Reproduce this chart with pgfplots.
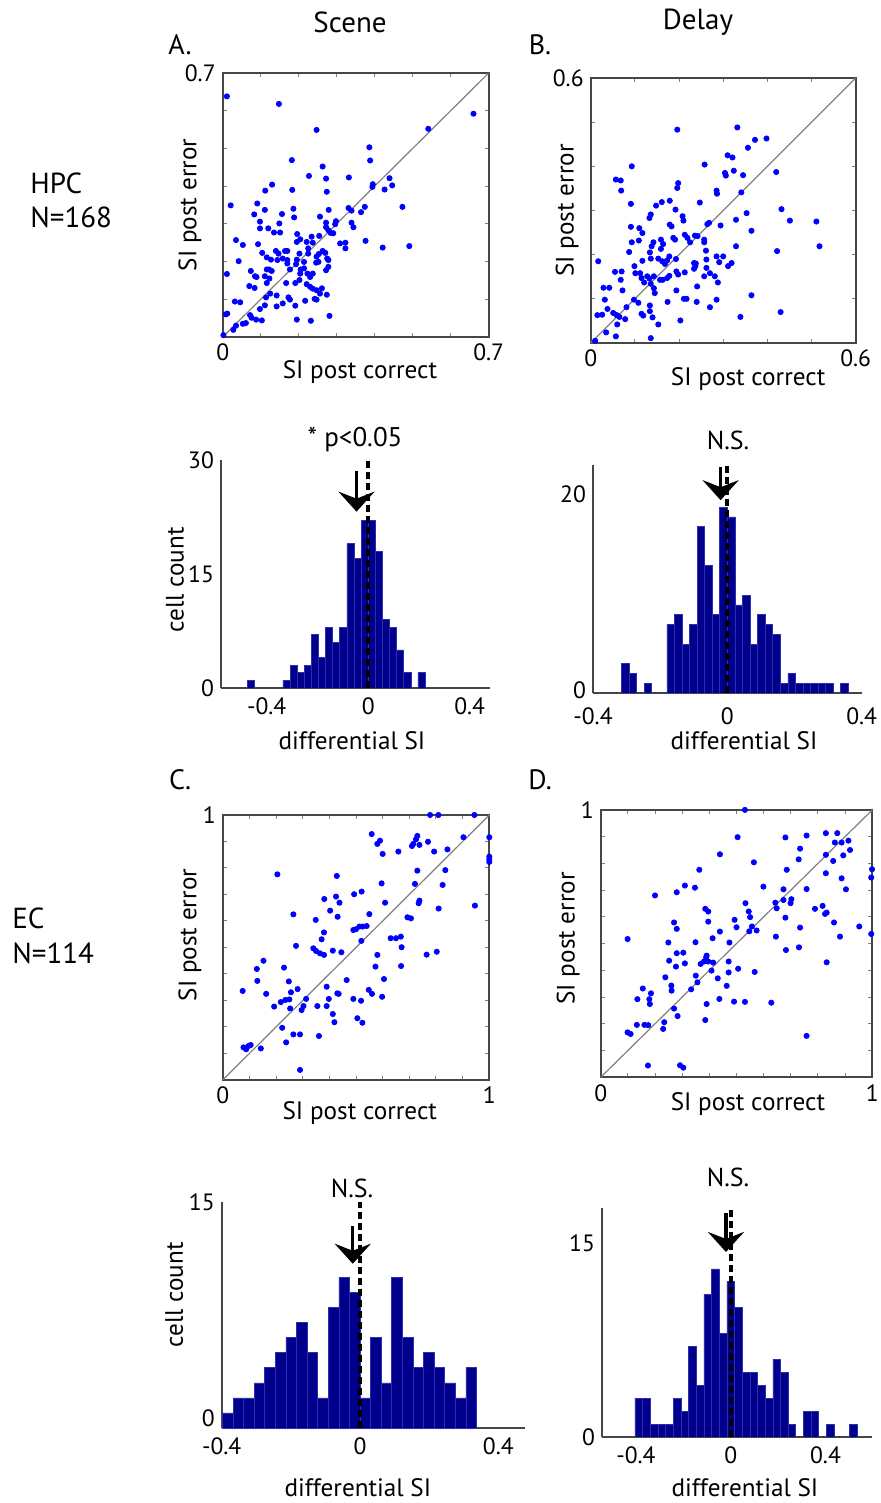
\documentclass[border=0pt]{standalone}
\usepackage{fontspec}
\setmainfont{PT Sans}
\usepackage{pgfplots}
\pgfplotsset{compat=1.18}
\usetikzlibrary{arrows.meta}

\definecolor{dotblue}{RGB}{0,0,255}
\definecolor{barblue}{RGB}{0,0,140}
\definecolor{baredge}{RGB}{45,45,175}
\definecolor{frame}{RGB}{70,70,70}

\pgfplotsset{
  base/.style={scale only axis, /pgf/number format/assume math mode=true,
    tick label style={font=\fontsize{11.8}{13}\selectfont},
    label style={font=\fontsize{12.6}{14}\selectfont}},
  scat/.style={base, tick align=inside, major tick length=2pt,
    axis line style={frame, line width=0.9pt}, tick style={gray, line width=0.5pt},
    clip=false, enlargelimits=false, xmin=0, ymin=0,
    xlabel={SI post correct}, ylabel={SI post error}},
  hist/.style={base, axis lines*=left, axis line style={frame, line width=0.9pt},
    major tick length=0pt, ymin=0, xlabel={differential SI},
    xticklabel style={yshift=-1.5pt}},
  dots/.style={only marks, mark=*, mark size=1.3pt, color=dotblue},
  diag/.style={gray, line width=0.6pt},
  bars/.style={ybar interval, fill=barblue, draw=baredge, line width=0.3pt},
  meanarrow/.style={line width=1.6pt, -{Stealth[length=10pt,width=18pt,inset=3.5pt]}},
  zeroline/.style={line width=2pt, dash pattern=on 3.5pt off 2pt}
}

\begin{document}
\begin{tikzpicture}
\path[use as bounding box] (0,0) rectangle (440pt,751.5pt);

% column and row titles
\node[font=\fontsize{14.5}{16}\selectfont] at (175pt,740.5pt) {Scene};
\node[font=\fontsize{14.5}{16}\selectfont] at (349pt,740.5pt) {Delay};
\node[font=\fontsize{14}{16}\selectfont] at (90pt,729pt) {A.};
\node[font=\fontsize{14}{16}\selectfont] at (270pt,729pt) {B.};
\node[font=\fontsize{14}{16}\selectfont] at (90pt,361.5pt) {C.};
\node[font=\fontsize{14}{16}\selectfont] at (270pt,361.5pt) {D.};
\node[anchor=west, inner sep=0pt, font=\fontsize{14.5}{16}\selectfont] at (15pt,660pt) {HPC};
\node[anchor=west, inner sep=0pt, font=\fontsize{14.5}{16}\selectfont] at (15pt,643pt) {N=168};
\node[anchor=west, inner sep=0pt, font=\fontsize{14.5}{16}\selectfont] at (6pt,292.5pt) {EC};
\node[anchor=west, inner sep=0pt, font=\fontsize{14.5}{16}\selectfont] at (6pt,275pt) {N=114};
\node[font=\fontsize{13.5}{15}\selectfont] at (177.5pt,531.5pt) {* p<0.05};
\node[font=\fontsize{13}{15}\selectfont] at (364pt,531.5pt) {N.S.};
\node[font=\fontsize{13}{15}\selectfont] at (176pt,157.5pt) {N.S.};
\node[font=\fontsize{13}{15}\selectfont] at (364pt,163pt) {N.S.};

% A: HPC scene scatter
\begin{axis}[scat, at={(111.35pt,583pt)}, anchor=south west, width=133pt, height=132pt,
  xmax=0.7, ymax=0.7, xtick={0,0.1,...,0.7}, ytick={0,0.1,...,0.7},
  xticklabels={0,,,,,,,0.7}, yticklabels={,,,,,,,0.7},
  xlabel style={at={(axis description cs:0.516,-0.133)}, anchor=center},
  ylabel style={at={(axis description cs:-0.123,0.5)}, anchor=center}]
\addplot[diag] coordinates {(0,0) (0.7,0.7)};
\addplot[dots] coordinates {
(0.011,0.638) (0.148,0.618) (0.247,0.549) (0.541,0.552) (0.660,0.592)
(0.386,0.503) (0.388,0.468) (0.182,0.469) (0.263,0.452) (0.227,0.427)
(0.272,0.420) (0.332,0.423) (0.439,0.421) (0.446,0.402) (0.395,0.405) (0.394,0.398)
(0.426,0.391) (0.130,0.404) (0.112,0.388) (0.183,0.390) (0.274,0.385)
(0.021,0.349) (0.091,0.354) (0.111,0.337) (0.083,0.325) (0.156,0.326) (0.186,0.340)
(0.279,0.337) (0.331,0.342) (0.339,0.335) (0.374,0.345) (0.364,0.331) (0.473,0.345)
(0.098,0.306) (0.149,0.301) (0.256,0.319) (0.188,0.317) (0.272,0.303) (0.272,0.291)
(0.298,0.307) (0.296,0.299) (0.339,0.303) (0.344,0.291) (0.098,0.288) (0.120,0.288)
(0.135,0.277) (0.151,0.277) (0.278,0.283) (0.284,0.276) (0.291,0.275) (0.196,0.273)
(0.035,0.257) (0.053,0.244) (0.093,0.246) (0.195,0.252) (0.204,0.259) (0.221,0.252)
(0.234,0.266) (0.237,0.250) (0.254,0.268) (0.309,0.248) (0.323,0.250) (0.323,0.235)
(0.376,0.255) (0.421,0.237) (0.491,0.241) (0.104,0.223) (0.042,0.201) (0.116,0.211)
(0.127,0.205) (0.140,0.228) (0.147,0.221) (0.164,0.228) (0.170,0.228) (0.144,0.204)
(0.158,0.208) (0.170,0.204) (0.170,0.195) (0.202,0.221) (0.195,0.205) (0.193,0.193)
(0.225,0.235) (0.225,0.221) (0.247,0.213) (0.253,0.220) (0.263,0.228) (0.270,0.223)
(0.275,0.208) (0.278,0.204) (0.272,0.177) (0.246,0.197) (0.252,0.199) (0.205,0.179)
(0.204,0.168) (0.214,0.199) (0.214,0.182) (0.223,0.168) (0.230,0.159) (0.237,0.168)
(0.278,0.186) (0.177,0.179) (0.074,0.175) (0.085,0.161) (0.089,0.159) (0.011,0.167)
(0.116,0.179) (0.122,0.179) (0.129,0.175) (0.111,0.161) (0.123,0.155) (0.070,0.135)
(0.084,0.130) (0.116,0.143) (0.167,0.143) (0.191,0.143) (0.202,0.151) (0.221,0.140)
(0.230,0.133) (0.237,0.128) (0.247,0.124) (0.261,0.129) (0.274,0.112) (0.256,0.115)
(0.242,0.101) (0.247,0.099) (0.125,0.115) (0.114,0.105) (0.142,0.110) (0.173,0.105)
(0.177,0.099) (0.158,0.089) (0.142,0.081) (0.191,0.083) (0.217,0.096) (0.032,0.094)
(0.046,0.092) (0.008,0.060) (0.012,0.062) (0.111,0.084) (0.098,0.074) (0.072,0.058)
(0.076,0.051) (0.088,0.046) (0.103,0.044) (0.053,0.035) (0.061,0.037) (0.035,0.030)
(0.028,0.019) (0.002,0.005) (0.195,0.046) (0.232,0.043) (0.281,0.056)};
\end{axis}

% B: HPC delay scatter
\begin{axis}[scat, at={(295.35pt,580pt)}, anchor=south west, width=132.5pt, height=132.5pt,
  xmax=0.6, ymax=0.6, xtick={0,0.1,...,0.6}, ytick={0,0.1,...,0.6},
  xticklabels={0,,,,,,0.6}, yticklabels={,,,,,,0.6},
  xlabel style={at={(axis description cs:0.594,-0.136)}, anchor=center},
  ylabel style={at={(axis description cs:-0.089,0.5)}, anchor=center}]
\addplot[diag] coordinates {(0,0) (0.6,0.6)};
\addplot[dots] coordinates {
(0.196,0.483) (0.332,0.488) (0.372,0.460) (0.356,0.442) (0.398,0.463)
(0.310,0.425) (0.321,0.420) (0.258,0.404) (0.304,0.385) (0.306,0.379) (0.324,0.390)
(0.345,0.380) (0.420,0.387) (0.093,0.400) (0.057,0.370) (0.068,0.368) (0.069,0.345)
(0.198,0.362) (0.196,0.351) (0.091,0.315) (0.179,0.322) (0.161,0.319) (0.148,0.311)
(0.136,0.291) (0.133,0.283) (0.192,0.302) (0.208,0.287) (0.210,0.277) (0.247,0.318)
(0.285,0.345) (0.286,0.338) (0.341,0.341) (0.432,0.303) (0.451,0.277) (0.511,0.275)
(0.518,0.219) (0.422,0.208) (0.353,0.294) (0.329,0.279) (0.268,0.272) (0.264,0.269)
(0.294,0.266) (0.364,0.254) (0.091,0.263) (0.110,0.260) (0.117,0.249) (0.179,0.268)
(0.183,0.264) (0.187,0.238) (0.191,0.234) (0.213,0.245) (0.219,0.238) (0.225,0.228)
(0.236,0.243) (0.242,0.242) (0.257,0.234) (0.257,0.228) (0.093,0.228) (0.109,0.232)
(0.087,0.206) (0.142,0.228) (0.138,0.219) (0.159,0.234) (0.164,0.224) (0.159,0.213)
(0.261,0.209) (0.329,0.219) (0.285,0.196) (0.291,0.183) (0.300,0.196) (0.311,0.174)
(0.319,0.181) (0.134,0.205) (0.136,0.191) (0.153,0.191) (0.162,0.185) (0.173,0.187)
(0.168,0.179) (0.178,0.196) (0.193,0.190) (0.234,0.181) (0.238,0.180) (0.237,0.174)
(0.234,0.168) (0.262,0.189) (0.262,0.170) (0.017,0.185) (0.099,0.174) (0.117,0.186)
(0.055,0.161) (0.070,0.162) (0.068,0.143) (0.101,0.158) (0.112,0.158) (0.115,0.147)
(0.128,0.151) (0.133,0.146) (0.143,0.151) (0.157,0.143) (0.163,0.143) (0.173,0.147)
(0.178,0.152) (0.194,0.162) (0.198,0.155) (0.213,0.160) (0.257,0.151) (0.270,0.158)
(0.281,0.151) (0.288,0.137) (0.241,0.128) (0.194,0.119) (0.136,0.134) (0.143,0.124)
(0.145,0.113) (0.121,0.137) (0.029,0.125) (0.042,0.125) (0.072,0.119) (0.032,0.098)
(0.174,0.093) (0.211,0.100) (0.217,0.100) (0.240,0.093) (0.285,0.098) (0.364,0.108)
(0.270,0.081) (0.098,0.098) (0.108,0.091) (0.081,0.081) (0.038,0.077) (0.134,0.085)
(0.134,0.072) (0.015,0.063) (0.026,0.064) (0.051,0.068) (0.059,0.063) (0.065,0.059)
(0.078,0.054) (0.115,0.066) (0.119,0.062) (0.140,0.058) (0.153,0.042) (0.060,0.042)
(0.035,0.024) (0.057,0.015) (0.136,0.011) (0.203,0.051) (0.339,0.059) (0.430,0.070)
(0.010,0.005)};
\end{axis}

% HPC scene histogram
\begin{axis}[hist, at={(110.5pt,407.5pt)}, anchor=south west, width=134.5pt, height=114pt,
  xmin=-0.58, xmax=0.48, ymax=30, xtick={-0.4,0,0.4}, xticklabels={-0.4,0,0.4},
  ytick={0,15,30}, ylabel={cell count},
  xlabel style={at={(axis description cs:0.487,-0.232)}, anchor=center},
  ylabel style={at={(axis description cs:-0.171,0.474)}, anchor=center}]
\addplot[bars] coordinates {
(-0.476,1) (-0.448,0) (-0.420,0) (-0.392,0) (-0.364,0) (-0.336,1) (-0.308,3)
(-0.280,2) (-0.252,3) (-0.224,7) (-0.196,4) (-0.168,8) (-0.140,6) (-0.112,8)
(-0.084,19) (-0.056,17) (-0.028,22) (0.000,22) (0.028,18) (0.056,9) (0.084,8)
(0.112,5) (0.140,2) (0.168,0) (0.196,2) (0.224,0)};
\addplot[zeroline] coordinates {(0,0) (0,30)};
\addplot[meanarrow] coordinates {(-0.046,28.6) (-0.046,23.2)};
\end{axis}

% HPC delay histogram
\begin{axis}[hist, at={(296.5pt,405pt)}, anchor=south west, width=134.35pt, height=114pt,
  xmin=-0.4, xmax=0.4, ymax=23.3, xtick={-0.4,0,0.4}, xticklabels={-0.4,0,0.4},
  ytick={0,20}, yticklabel style={yshift=1.5pt}, xticklabel style={yshift=-2.5pt},
  xlabel style={at={(axis description cs:0.562,-0.21)}, anchor=center}]
\addplot[bars] coordinates {
(-0.315,3) (-0.2925,2) (-0.270,0) (-0.2475,1) (-0.225,0) (-0.2025,0) (-0.180,7)
(-0.1575,8) (-0.135,5) (-0.1125,7) (-0.090,17) (-0.0675,13) (-0.045,8) (-0.0225,19)
(0,18) (0.0225,9) (0.045,10) (0.0675,5) (0.090,8) (0.1125,7) (0.135,6) (0.1575,1)
(0.180,2) (0.2025,1) (0.225,1) (0.2475,1) (0.270,1) (0.2925,1) (0.315,0) (0.3375,1)
(0.360,0)};
\addplot[zeroline] coordinates {(0,0) (0,23.3)};
\addplot[meanarrow] coordinates {(-0.02,23.1) (-0.02,19.7)};
\end{axis}

% C: EC scene scatter
\begin{axis}[scat, at={(111.35pt,211.5pt)}, anchor=south west, width=133.3pt, height=132.5pt,
  xmax=1, ymax=1, xtick={0,0.1,...,1}, ytick={0,0.1,...,1},
  xticklabels={0,,,,,,,,,,1}, yticklabels={,,,,,,,,,,1},
  xlabel style={at={(axis description cs:0.514,-0.125)}, anchor=center},
  ylabel style={at={(axis description cs:-0.123,0.547)}, anchor=center}]
\addplot[diag] coordinates {(0,0) (1,1)};
\addplot[dots] coordinates {
(0.778,1.0) (0.809,1.0) (0.944,1.0) (0.559,0.928) (0.590,0.903) (0.580,0.891)
(0.600,0.853) (0.659,0.862) (0.710,0.883) (0.715,0.891) (0.725,0.908) (0.730,0.921)
(0.738,0.887) (0.770,0.899) (0.793,0.862) (0.843,0.870) (0.903,0.916) (1.0,0.916)
(1.0,0.843) (1.0,0.833) (1.0,0.823) (0.730,0.790) (0.835,0.792) (0.721,0.740)
(0.825,0.736) (0.596,0.742) (0.609,0.669) (0.738,0.677) (0.735,0.667) (0.810,0.647)
(0.946,0.658) (0.205,0.776) (0.428,0.770) (0.381,0.683) (0.425,0.692) (0.438,0.669)
(0.493,0.701) (0.521,0.711) (0.403,0.639) (0.431,0.616) (0.265,0.625) (0.550,0.626)
(0.349,0.604) (0.693,0.614) (0.706,0.610) (0.380,0.557) (0.371,0.531) (0.490,0.566)
(0.500,0.569) (0.513,0.579) (0.525,0.579) (0.540,0.581) (0.520,0.525) (0.630,0.535)
(0.650,0.535) (0.668,0.541) (0.671,0.501) (0.275,0.506) (0.340,0.497) (0.350,0.487)
(0.365,0.478) (0.380,0.472) (0.413,0.488) (0.445,0.482) (0.580,0.472) (0.573,0.428)
(0.669,0.430) (0.765,0.473) (0.803,0.484) (0.153,0.450) (0.128,0.419) (0.230,0.424)
(0.130,0.374) (0.248,0.372) (0.075,0.336) (0.163,0.325) (0.256,0.331) (0.281,0.343)
(0.465,0.377) (0.605,0.381) (0.390,0.352) (0.430,0.327) (0.435,0.325) (0.548,0.340)
(0.560,0.325) (0.598,0.314) (0.218,0.294) (0.235,0.302) (0.250,0.304) (0.193,0.277)
(0.253,0.270) (0.296,0.264) (0.303,0.279) (0.313,0.306) (0.355,0.279) (0.390,0.279)
(0.398,0.306) (0.413,0.249) (0.419,0.218) (0.490,0.306) (0.519,0.299) (0.505,0.233)
(0.524,0.216) (0.223,0.197) (0.265,0.172) (0.238,0.142) (0.290,0.172) (0.361,0.166)
(0.078,0.123) (0.088,0.116) (0.096,0.128) (0.105,0.132) (0.143,0.119) (0.290,0.038)};
\end{axis}

% D: EC delay scatter
\begin{axis}[scat, at={(300.35pt,212.85pt)}, anchor=south west, width=135.8pt, height=133.7pt,
  xmax=1, ymax=1, xtick={0,0.1,...,1}, ytick={0,0.1,...,1},
  xticklabels={0,,,,,,,,,,1}, yticklabels={,,,,,,,,,,1},
  xlabel style={at={(axis description cs:0.542,-0.10)}, anchor=center},
  ylabel style={at={(axis description cs:-0.12,0.52)}, anchor=center}]
\addplot[diag] coordinates {(0,0) (1,1)};
\addplot[dots] coordinates {
(0.531,1.0) (0.504,0.898) (0.439,0.834) (0.564,0.804) (0.363,0.776) (0.680,0.897)
(0.758,0.904) (0.829,0.913) (0.871,0.913) (0.734,0.855) (0.729,0.815) (0.685,0.776)
(0.829,0.832) (0.829,0.763) (0.856,0.809) (0.862,0.878) (0.887,0.878) (0.912,0.885)
(0.918,0.850) (0.893,0.830) (0.999,0.778) (0.996,0.747) (0.887,0.744) (0.903,0.703)
(0.758,0.704) (0.673,0.703) (0.599,0.713) (0.310,0.717) (0.347,0.709) (0.280,0.692)
(0.200,0.680) (0.643,0.653) (0.648,0.632) (0.673,0.663) (0.699,0.651) (0.702,0.666)
(0.789,0.630) (0.817,0.641) (0.826,0.611) (0.832,0.616) (0.533,0.651) (0.545,0.620)
(0.550,0.599) (0.385,0.630) (0.396,0.620) (0.396,0.582) (0.270,0.579) (0.280,0.555)
(0.493,0.589) (0.500,0.561) (0.557,0.564) (0.547,0.546) (0.574,0.549) (0.680,0.597)
(0.734,0.560) (0.859,0.579) (0.952,0.564) (0.996,0.536) (0.881,0.526) (0.645,0.526)
(0.099,0.517) (0.249,0.504) (0.349,0.505) (0.439,0.545) (0.412,0.520) (0.474,0.504)
(0.682,0.476) (0.730,0.486) (0.280,0.464) (0.304,0.466) (0.310,0.426) (0.252,0.436)
(0.277,0.414) (0.368,0.424) (0.380,0.433) (0.388,0.448) (0.390,0.455) (0.396,0.433)
(0.414,0.429) (0.408,0.399) (0.471,0.433) (0.832,0.430) (0.238,0.374) (0.350,0.380)
(0.356,0.355) (0.431,0.370) (0.471,0.392) (0.506,0.406) (0.567,0.394) (0.260,0.343)
(0.261,0.324) (0.333,0.329) (0.155,0.332) (0.185,0.314) (0.179,0.292) (0.181,0.274)
(0.135,0.292) (0.464,0.342) (0.437,0.293) (0.491,0.283) (0.531,0.282) (0.390,0.274)
(0.628,0.279) (0.270,0.257) (0.283,0.229) (0.385,0.214) (0.133,0.196) (0.161,0.196)
(0.175,0.195) (0.234,0.206) (0.230,0.181) (0.099,0.168) (0.110,0.162) (0.758,0.155)
(0.174,0.044) (0.292,0.045) (0.304,0.036)};
\end{axis}

% EC scene histogram
\begin{axis}[hist, at={(110.85pt,37.5pt)}, anchor=south west, width=151.65pt, height=113pt,
  xmin=-0.4, xmax=0.477, ymax=15, xtick={-0.4,0,0.4}, xticklabels={-0.4,0,0.4},
  ytick={0,15}, yticklabels={,15}, ylabel={cell count},
  xlabel style={at={(axis description cs:0.449,-0.265)}, anchor=center},
  ylabel style={at={(axis description cs:-0.157,0.589)}, anchor=center},
  after end axis/.code={\node[anchor=east, font=\fontsize{11.8}{13}\selectfont]
    at (axis cs:-0.4,0.66) {0};}]
\addplot[bars] coordinates {
(-0.3978,1) (-0.3672,2) (-0.3366,2) (-0.306,3) (-0.2754,4) (-0.2448,5) (-0.2142,6)
(-0.1836,7) (-0.153,5) (-0.1224,2) (-0.0918,8) (-0.0612,10) (-0.0306,9) (0,2)
(0.0306,6) (0.0612,3) (0.0918,10) (0.1224,6) (0.153,4) (0.1836,5) (0.2142,4)
(0.2448,3) (0.2754,2) (0.306,4) (0.3366,0)};
\addplot[zeroline] coordinates {(0,0) (0,15)};
\addplot[meanarrow] coordinates {(-0.021,13.4) (-0.021,10.9)};
\end{axis}

% EC delay histogram
\begin{axis}[hist, at={(301pt,33pt)}, anchor=south west, width=134.85pt, height=114.5pt,
  xmin=-0.543, xmax=0.595, ymax=17.7, xtick={-0.4,0,0.4}, xticklabels={-0.4,0,0.4},
  ytick={0,15},
  xlabel style={at={(axis description cs:0.53,-0.223)}, anchor=center}]
\addplot[bars] coordinates {
(-0.4038,3) (-0.3715,3) (-0.3392,1) (-0.3069,1) (-0.2746,1) (-0.2423,3) (-0.2100,2)
(-0.1777,7) (-0.1454,4) (-0.1131,11) (-0.0808,13) (-0.0485,8) (-0.0162,12)
(0.0162,10) (0.0485,5) (0.0808,5) (0.1131,4) (0.1454,3) (0.1777,6) (0.2100,5)
(0.2423,1) (0.2746,0) (0.3069,2) (0.3392,2) (0.3715,0) (0.4038,1) (0.4361,0)
(0.4684,0) (0.5007,1) (0.5330,0)};
\addplot[zeroline] coordinates {(0,0) (0,17.7)};
\addplot[meanarrow] coordinates {(-0.02,17.3) (-0.02,14.3)};
\end{axis}
\end{tikzpicture}
\end{document}
